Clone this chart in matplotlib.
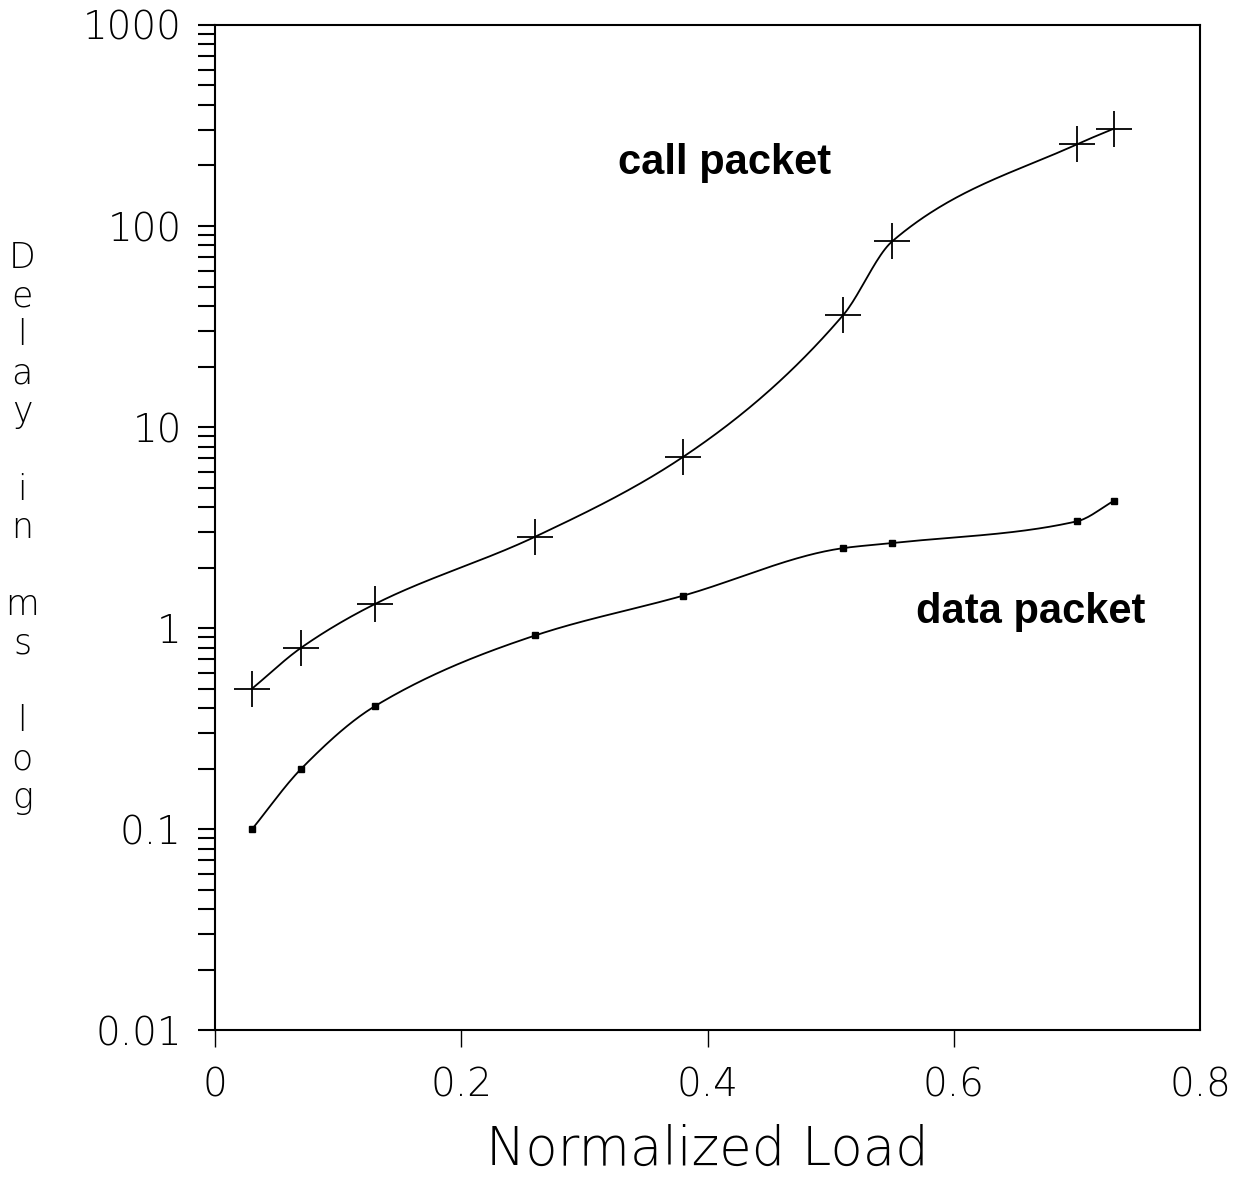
import numpy as np
import matplotlib
matplotlib.use('Agg')
import matplotlib.pyplot as plt
from matplotlib.ticker import LogLocator, FixedLocator, NullFormatter

# valeurs
load = [0.03, 0.07, 0.13, 0.26, 0.38, 0.51, 0.55, 0.70, 0.73]
call_delay = [0.50, 0.80, 1.32, 2.85, 7.1, 36, 84, 255, 305]
data_delay = [0.10, 0.20, 0.41, 0.92, 1.45, 2.50, 2.65, 3.4, 4.3]

y_ticks = [0.01, 0.1, 1, 10, 100, 1000]
y_labels = ['0.01', '0.1', '1', '10', '100', '1000']
x_ticks = [0, 0.2, 0.4, 0.6, 0.8]
x_labels = ['0', '0.2', '0.4', '0.6', '0.8']


def pchip(x, y, xs):
    # interpolation cubique monotone (Fritsch-Carlson), en log10
    x = np.asarray(x, float)
    y = np.asarray(y, float)
    h = np.diff(x)
    delta = np.diff(y) / h
    n = len(x)
    d = np.zeros(n)
    for i in range(1, n - 1):
        if delta[i - 1] * delta[i] > 0:
            w1 = 2 * h[i] + h[i - 1]
            w2 = h[i] + 2 * h[i - 1]
            d[i] = (w1 + w2) / (w1 / delta[i - 1] + w2 / delta[i])
    d[0] = delta[0]
    d[-1] = delta[-1]
    out = np.empty_like(xs)
    for k, xv in enumerate(xs):
        i = min(max(np.searchsorted(x, xv) - 1, 0), n - 2)
        t = (xv - x[i]) / h[i]
        h00 = 2 * t ** 3 - 3 * t ** 2 + 1
        h10 = t ** 3 - 2 * t ** 2 + t
        h01 = -2 * t ** 3 + 3 * t ** 2
        h11 = t ** 3 - t ** 2
        out[k] = h00 * y[i] + h10 * h[i] * d[i] + h01 * y[i + 1] + h11 * h[i] * d[i + 1]
    return out


fig = plt.figure(figsize=(12.36, 11.87), dpi=100)
ax = fig.add_axes([0.174, 0.132, 0.797, 0.847])

xs = np.linspace(load[0], load[-1], 400)
for serie in (call_delay, data_delay):
    ys = 10 ** pchip(load, np.log10(serie), xs)
    ax.plot(xs, ys, color='black', linewidth=1.3)

ax.plot(load, call_delay, linestyle='none', marker='+', markersize=26,
        markeredgewidth=1.3, color='black')
ax.plot(load, data_delay, linestyle='none', marker='s', markersize=5,
        color='black')

ax.set_yscale('log')
ax.set_ylim(0.01, 1000)
ax.set_xlim(0, 0.8)

ax.yaxis.set_major_locator(FixedLocator(y_ticks))
ax.set_yticklabels(y_labels)
ax.yaxis.set_minor_locator(LogLocator(base=10, subs=np.arange(2, 10)))
ax.yaxis.set_minor_formatter(NullFormatter())
ax.set_xticks(x_ticks)
ax.set_xticklabels(x_labels)

ax.tick_params(axis='y', which='both', direction='out', length=12, width=1.5,
               labelsize=28, pad=12)
ax.tick_params(axis='x', which='major', direction='out', length=12, width=1,
               labelsize=28, pad=14)
ax.xaxis.get_major_ticks()[-1].tick1line.set_visible(False)
for lab in ax.get_xticklabels() + ax.get_yticklabels():
    lab.set_fontweight('light')

for s in ax.spines.values():
    s.set_linewidth(1.5)

ax.set_xlabel('Normalized Load', fontsize=38, fontweight='light', labelpad=14)

fig.text(0.018, 0.797, '\n'.join('Delay in ms log'), fontsize=25,
         fontweight='light', va='top', ha='center', linespacing=1.17)

ax.text(0.414, 206, 'call packet', fontsize=30, fontweight='bold',
        family='Liberation Sans', ha='center', va='center')
ax.text(0.662, 1.2, 'data packet', fontsize=30, fontweight='bold',
        family='Liberation Sans', ha='center', va='center')

fig.savefig('out.png', dpi=100)
